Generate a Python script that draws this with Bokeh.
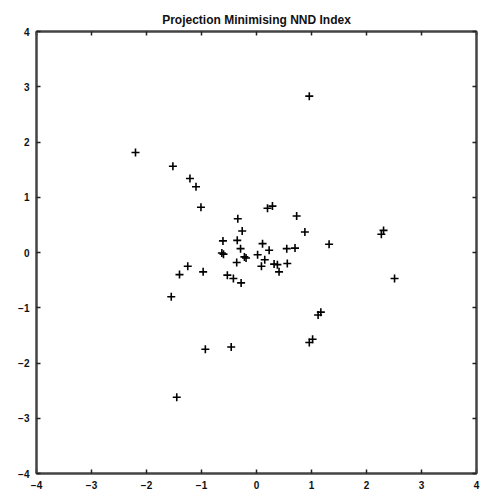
from bokeh.plotting import figure
from bokeh.models import LinearAxis, FixedTicker, Range1d
from bokeh.embed import file_html
from bokeh.resources import INLINE

xs = [-2.20, -1.52, -1.21, -1.10, -1.01, 0.96, 0.20, 0.29, 0.73, -0.34,
      -0.26, -0.61, -0.35, 0.11, -0.29, 0.23, 0.55, 0.70, -0.63, -0.60,
      -0.22, -0.19, 0.02, 0.15, -0.36, 0.32, 0.38, 0.56, 0.09, -0.97,
      0.41, -0.53, -0.42, -0.28, -1.25, -1.40, -1.55, -0.93, -0.46, -1.45,
      0.88, 1.32, 2.27, 2.31, 2.51, 1.12, 1.17, 0.96, 1.02]
ys = [1.81, 1.56, 1.34, 1.19, 0.82, 2.83, 0.80, 0.84, 0.66, 0.61,
      0.39, 0.21, 0.22, 0.16, 0.07, 0.04, 0.07, 0.08, -0.01, -0.03,
      -0.08, -0.10, -0.04, -0.13, -0.18, -0.21, -0.22, -0.20, -0.25, -0.35,
      -0.35, -0.41, -0.47, -0.55, -0.25, -0.40, -0.80, -1.75, -1.71, -2.62,
      0.37, 0.15, 0.33, 0.40, -0.47, -1.13, -1.08, -1.63, -1.57]
ticks = [-4, -3, -2, -1, 0, 1, 2, 3, 4]
title_text = "Projection Minimising NND Index"

p = figure(width=480, height=492, output_backend="svg", toolbar_location=None,
           x_range=Range1d(-4, 4), y_range=Range1d(-4, 4),
           x_axis_location=None, y_axis_location=None,
           min_border_left=36, min_border_right=4, min_border_top=31, min_border_bottom=19)
p.title.text = title_text
p.title.align = "center"
p.title.text_font = "Liberation Sans"
p.title.text_font_size = "12px"
p.title.text_font_style = "bold"
p.title.text_color = "#111111"
p.title.standoff = 9
p.grid.visible = False
p.outline_line_color = "#444444"
p.outline_line_width = 2
p.background_fill_color = "white"
p.border_fill_color = "white"

for loc, labels in (("left", True), ("below", True), ("right", False), ("above", False)):
    ax = LinearAxis(ticker=FixedTicker(ticks=ticks))
    ax.major_tick_in = 4
    ax.major_tick_out = 0
    ax.minor_tick_in = 0
    ax.minor_tick_out = 0
    ax.major_tick_line_color = "#222222"
    ax.major_tick_line_width = 1.5
    ax.axis_line_color = "#444444"
    ax.axis_line_width = 2
    ax.major_label_text_font = "Liberation Sans"
    ax.major_label_text_font_size = "10px"
    ax.major_label_text_font_style = "bold"
    ax.major_label_text_color = "#111111"
    ax.major_label_standoff = 7
    if not labels:
        ax.major_label_overrides = {t: "" for t in ticks}
        ax.major_label_standoff = 0
    p.add_layout(ax, loc)

p.scatter(xs, ys, marker="cross", size=8, line_width=1.6, line_color="black")

open("out.html", "w").write(file_html(p, INLINE))
